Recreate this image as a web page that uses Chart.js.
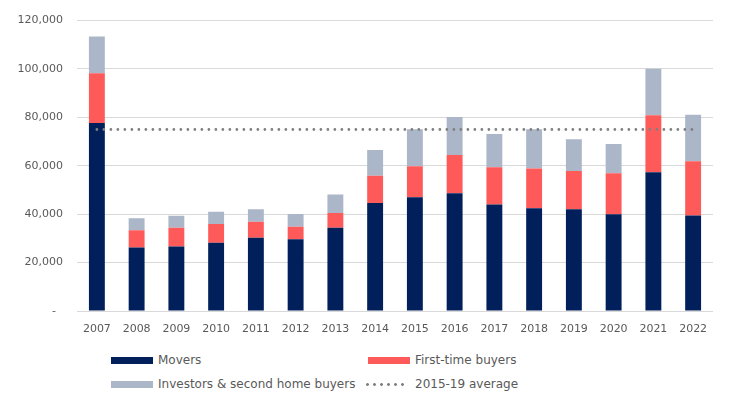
<!DOCTYPE html>
<html>
<head>
<meta charset="utf-8">
<script src="https://cdn.jsdelivr.net/npm/chart.js@4/dist/chart.umd.min.js"></script>
<style>
  body { margin: 0; background: #fff; }
  #wrap { width: 731px; height: 406px; position: relative; }
  #chartBox { width: 731px; height: 340px; position: relative; }
  #legend {
    display: grid;
    grid-template-columns: 257px 300px;
    grid-auto-rows: 24px;
    padding: 8px 0 0 111px;
    font-family: "DejaVu Sans", sans-serif;
    font-size: 12px;
    color: #595959;
  }
  .item { display: flex; align-items: center; white-space: nowrap; }
  .swatch { width: 42px; height: 7px; margin-right: 5px; }
  .dots { width: 42px; height: 3px; margin-right: 9px; margin-left: -4px;
    background-image: radial-gradient(circle, #808080 1.3px, transparent 1.5px);
    background-size: 7px 3px; }
</style>
</head>
<body>
<div id="wrap">
  <div id="chartBox"><canvas id="results"></canvas></div>
  <div id="legend"></div>
</div>
<script>
// years on the x axis
let years = ['2007', '2008', '2009', '2010', '2011', '2012', '2013', '2014',
  '2015', '2016', '2017', '2018', '2019', '2020', '2021', '2022'];

// values
let movers = [77700, 26200, 26700, 28200, 30300, 29700, 34400, 44600,
  47000, 48700, 44000, 42500, 42000, 40000, 57300, 39500];
let firstTimeBuyers = [20500, 7200, 7700, 7700, 6600, 5100, 6100, 11300,
  12800, 15800, 15400, 16400, 15800, 16900, 23600, 22400];
let investors = [15200, 4900, 5000, 5100, 5100, 5300, 7600, 10600,
  15300, 15700, 13700, 16200, 13200, 12100, 19200, 19200];
let average2015to19 = [75000, 75000, 75000, 75000, 75000, 75000, 75000, 75000,
  75000, 75000, 75000, 75000, 75000, 75000, 75000, 75000];

let yTicks = [0, 20000, 40000, 60000, 80000, 100000, 120000];

function createStackedChart() {
  let c = document.getElementById('results');
  let context = c.getContext('2d');
  let font = { family: 'DejaVu Sans', size: 11 };

  let results = new Chart(context, {
    data: {
      labels: years,
      datasets: [
        {
          type: 'line',
          label: '2015-19 average',
          data: average2015to19,
          stack: 'avg',
          borderColor: '#808080',
          borderWidth: 2.8,
          borderDash: [0, 7],
          borderCapStyle: 'round',
          pointRadius: 0,
          fill: false
        },
        {
          type: 'bar',
          label: 'Movers',
          data: movers,
          stack: 'buyers',
          backgroundColor: '#001F5B'
        },
        {
          type: 'bar',
          label: 'First-time buyers',
          data: firstTimeBuyers,
          stack: 'buyers',
          backgroundColor: '#FF5A5A'
        },
        {
          type: 'bar',
          label: 'Investors & second home buyers',
          data: investors,
          stack: 'buyers',
          backgroundColor: '#ABB6C8'
        }
      ]
    },

    options: {
      responsive: true,
      maintainAspectRatio: false,
      animation: false,
      layout: { padding: { top: 18, right: 18, left: 0, bottom: 0 } },
      datasets: { bar: { barPercentage: 0.4, categoryPercentage: 1 } },
      plugins: {
        legend: { display: false },
        tooltip: { enabled: false }
      },
      scales: {
        x: {
          stacked: true,
          grid: { display: false },
          border: { display: false },
          ticks: { color: '#595959', font: font, padding: 4, maxRotation: 0 },
          afterFit: scale => { scale.height = 29; }
        },
        y: {
          stacked: true,
          min: 0,
          max: 120000,
          afterBuildTicks: scale => {
            scale.ticks = yTicks.map(v => ({ value: v }));
          },
          grid: { color: '#D9D9D9', lineWidth: 1, drawTicks: false },
          border: { display: false },
          ticks: {
            color: '#595959',
            font: font,
            padding: 14,
            callback: v => v === 0 ? '-  ' : v.toLocaleString('en-US')
          },
          afterFit: scale => { scale.width = 77; }
        }
      }
    }
  });

  // legend in two columns, same order as the picture
  let order = [1, 2, 3, 0];
  let legend = document.getElementById('legend');
  order.forEach(i => {
    let ds = results.data.datasets[i];
    let item = document.createElement('div');
    item.className = 'item';
    let mark = document.createElement('span');
    if (ds.type === 'line') {
      mark.className = 'dots';
    } else {
      mark.className = 'swatch';
      mark.style.background = ds.backgroundColor;
    }
    item.appendChild(mark);
    item.appendChild(document.createTextNode(ds.label));
    legend.appendChild(item);
  });
}

createStackedChart();
</script>
</body>
</html>
